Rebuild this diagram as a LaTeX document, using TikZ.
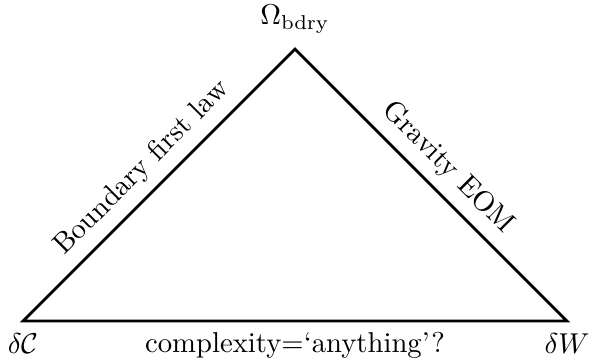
\documentclass[tikz,border=0pt]{standalone}
\usepackage{xcolor}
\usetikzlibrary{positioning}
\tikzset{
  edgeline/.style={line width=1pt, line join=miter},
  edgelabel/.style={sloped, above, font=\normalsize},
  vertexlabel/.style={font=\normalsize},
}

\begin{document}
\begin{tikzpicture}
  \useasboundingbox (0,0) rectangle (7.213,4.384);
  % Vertices of the triangle
  \coordinate (dC)    at (0.283,0.453);
  \coordinate (dW)    at (6.943,0.453);
  \coordinate (bdry)  at (3.613,3.783);
  % Sides
  \draw[edgeline] (dC) -- node[edgelabel] (firstlaw) {Boundary first law} (bdry)
    -- node[edgelabel] (eom) {Gravity EOM} (dW)
    -- node[below, font=\normalsize] (complexity) {complexity=`anything'?} (dC) -- cycle;
  % Labels
  \node[vertexlabel, below=0pt of dC, yshift=-1pt] (dClabel) {$\delta\mathcal{C}$};
  \node[vertexlabel, below=0pt of dW, yshift=-1pt] (dWlabel) {$\delta W$};
  \node[vertexlabel, above=2pt of bdry] (bdrylabel) {$\Omega_{\mathrm{bdry}}$};
\end{tikzpicture}
\end{document}
